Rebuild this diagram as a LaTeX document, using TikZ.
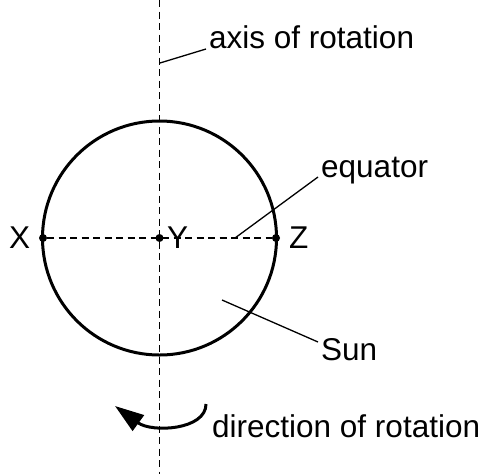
\documentclass[tikz,border=0pt]{standalone}
\usepackage{fontspec}
\setmainfont{Liberation Sans}
\usetikzlibrary{arrows.meta}
\begin{document}
\begin{tikzpicture}[x=1pt,y=-1pt,
  lbl/.style={anchor=base west,inner sep=0pt,font=\fontsize{31.5}{36}\selectfont},
  dashline/.style={line width=1.3pt,dash pattern=on 7pt off 4.5pt},
  leader/.style={line width=1.3pt},
  dotmark/.style={circle,fill=black,inner sep=0pt,minimum size=8pt}]
\useasboundingbox (0,0) rectangle (486,474);
% axis
\coordinate (atop) at (159.5,0);
\coordinate (abot) at (159.5,474);
\draw[dashline] (atop) -- (abot);
% sun
\node[circle,draw,line width=3pt,minimum size=234pt,inner sep=0pt] (sun) at (159.5,238) {};
% equator dashed line
\node[dotmark] (X) at (43,238) {};
\node[dotmark] (Y) at (159.5,238) {};
\node[dotmark] (Z) at (276,238) {};
\draw[dashline] (X) -- (Z);
% point labels
\node[lbl] (lx) at (9,248) {X};
\node[lbl] (ly) at (167,248) {Y};
\node[lbl] (lz) at (289,248) {Z};
% text labels
\node[lbl] (taxis) at (209,48) {axis of rotation};
\node[lbl] (teq) at (321,177) {equator};
\node[lbl] (tsun) at (321,360) {Sun};
\node[lbl] (tdir) at (212,437) {direction of rotation};
% leaders
\coordinate (la1) at (160,63);
\coordinate (la2) at (206,49);
\draw[leader] (la1) -- (la2);
\coordinate (le1) at (235,238);
\coordinate (le2) at (318,177);
\draw[leader] (le1) -- (le2);
\coordinate (ls1) at (222,300);
\coordinate (ls2) at (318,342);
\draw[leader] (ls1) -- (ls2);
% rotation arrow
\coordinate (r1) at (206,404);
\coordinate (r2) at (115,406);
\draw[line width=3pt,-{Triangle[length=29pt,width=19pt]}] (r1) .. controls (206,430) and (152,433) .. (r2);
\end{tikzpicture}
\end{document}
